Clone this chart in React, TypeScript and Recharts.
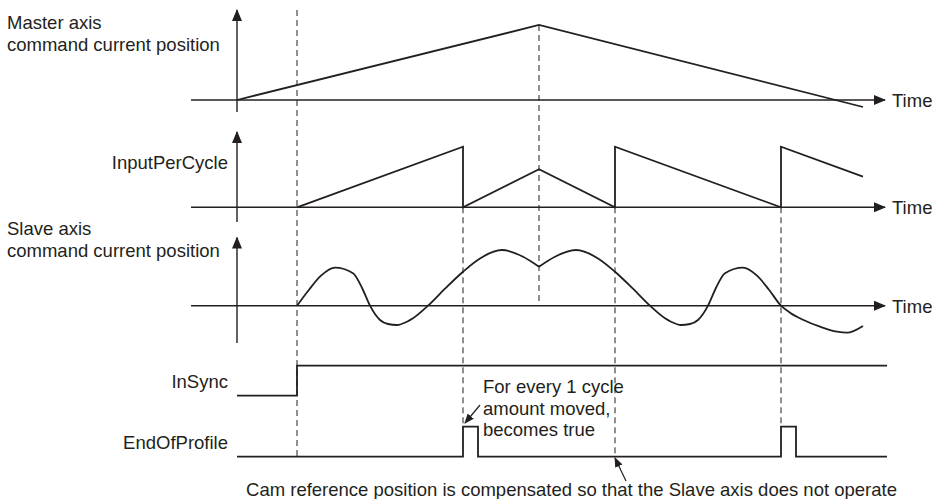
import { ComposedChart, Line, XAxis, YAxis } from "recharts";

// time runs in arbitrary units; 0 = start of master motion
const masterTime = [0, 302, 626];
const masterPos = [0, 75, -7];

const inputTime = [60, 226, 226, 302, 378, 378, 544, 544, 626];
const inputVal = [0, 60.6, 0, 38, 0, 60.6, 0, 60.6, 30.6];

// slave position, split at the cusp (t = 302)
const slaveTimeA = [60, 72, 84, 98, 116, 126, 133, 143, 151, 160, 170, 176, 191, 208, 226, 243, 265, 286, 302];
const slaveValA = [0, 16, 30, 38, 32.5, 15.7, 0, -14.3, -18.3, -19.3, -16, -12.6, 0, 17, 34, 47.3, 55.7, 49, 39];
const slaveTimeB = [302, 318, 339, 361, 378, 396, 413, 428, 434, 444, 453, 461, 471, 478, 488, 506, 520, 532, 544, 553, 566, 583, 600, 610, 626];
const slaveValB = [39, 49, 55.7, 47.3, 34, 17, 0, -12.6, -16, -19.3, -18.3, -14.3, 0, 15.7, 32.5, 38, 30, 16, 0, -7, -14, -21, -26, -27, -20.3];

const inSyncTime = [0, 60, 60, 650];
const inSyncVal = [0, 0, 1, 1];

const eopTime = [0, 226, 226, 241, 241, 544, 544, 559, 559, 650];
const eopVal = [0, 0, 1, 1, 0, 0, 1, 1, 0, 0];

// moments marked with dashed guides
const eventTime = [60, 226, 302, 378, 544];

const W = 932;
const H = 499;
const INK = "#231f20";
const FONT = "'Liberation Sans', Arial, Helvetica, sans-serif";

// baselines of the tracks, px from top (y axis is reversed)
const MASTER_Y = 100;
const INPUT_Y = 207.3;
const SLAVE_Y = 305.7;
const INSYNC_Y = 395.7;
const EOP_Y = 456.7;
const BIT_H = 30;

const rows = (ts: number[], vs: number[], base: number, k = 1) =>
  ts.map((t, i) => ({ t, y: base - vs[i] * k }));
const seg = (t1: number, y1: number, t2: number, y2: number) => [
  { t: t1, y: y1 },
  { t: t2, y: y2 },
];

const guideSpans: [number, number][] = [
  [10, EOP_Y],
  [INPUT_Y, EOP_Y - BIT_H],
  [25, SLAVE_Y],
  [INPUT_Y, EOP_Y],
  [INPUT_Y, EOP_Y - BIT_H],
];

const axes = [
  seg(-46, MASTER_Y, 648, MASTER_Y),
  seg(0, 112, 0, 10),
  seg(-46, INPUT_Y, 648, INPUT_Y),
  seg(0, 222, 0, 132),
  seg(-46, SLAVE_Y, 648, SLAVE_Y),
  seg(0, 343, 0, 237.5),
];

const pointers = [seg(243, 405, 228, 423), seg(389, 481, 378, 458)];

const signals = [
  rows(masterTime, masterPos, MASTER_Y),
  rows(inputTime, inputVal, INPUT_Y),
  rows(inSyncTime, inSyncVal, INSYNC_Y, BIT_H),
  rows(eopTime, eopVal, EOP_Y, BIT_H),
];

const textStyle = { fontFamily: FONT, fontSize: 18.5, fill: INK };

export default function App() {
  return (
    <div style={{ width: W, height: H, background: "#fff" }}>
      <style>{"body{margin:0}"}</style>
      <ComposedChart width={W} height={H} margin={{ top: 0, right: 0, bottom: 0, left: 0 }}>
        <defs>
          <marker
            id="axisHead"
            viewBox="0 0 12 10"
            refX="11"
            refY="5"
            markerWidth="12"
            markerHeight="10"
            markerUnits="userSpaceOnUse"
            orient="auto"
          >
            <path d="M0,0 L12,5 L0,10 z" fill={INK} />
          </marker>
          <marker
            id="noteHead"
            viewBox="0 0 10 8"
            refX="9"
            refY="4"
            markerWidth="10"
            markerHeight="8"
            markerUnits="userSpaceOnUse"
            orient="auto"
          >
            <path d="M0,0 L10,4 L0,8 z" fill={INK} />
          </marker>
        </defs>
        <XAxis dataKey="t" type="number" domain={[-237, 695]} allowDataOverflow hide />
        <YAxis dataKey="y" type="number" domain={[0, H]} reversed allowDataOverflow hide />

        {eventTime.map((t, i) => (
          <Line
            key={`g${i}`}
            data={seg(t, guideSpans[i][0], t, guideSpans[i][1])}
            dataKey="y"
            type="linear"
            stroke={INK}
            strokeWidth={1}
            strokeDasharray="6 4"
            dot={false}
            activeDot={false}
            isAnimationActive={false}
          />
        ))}

        {axes.map((d, i) => (
          <Line
            key={`a${i}`}
            data={d}
            dataKey="y"
            type="linear"
            stroke={INK}
            strokeWidth={1.4}
            markerEnd="url(#axisHead)"
            dot={false}
            activeDot={false}
            isAnimationActive={false}
          />
        ))}

        {signals.map((d, i) => (
          <Line
            key={`s${i}`}
            data={d}
            dataKey="y"
            type="linear"
            stroke={INK}
            strokeWidth={1.8}
            dot={false}
            activeDot={false}
            isAnimationActive={false}
          />
        ))}
        <Line
          data={rows(slaveTimeA, slaveValA, SLAVE_Y)}
          dataKey="y"
          type="monotone"
          stroke={INK}
          strokeWidth={1.8}
          dot={false}
          activeDot={false}
          isAnimationActive={false}
        />
        <Line
          data={rows(slaveTimeB, slaveValB, SLAVE_Y)}
          dataKey="y"
          type="monotone"
          stroke={INK}
          strokeWidth={1.8}
          dot={false}
          activeDot={false}
          isAnimationActive={false}
        />

        {pointers.map((d, i) => (
          <Line
            key={`p${i}`}
            data={d}
            dataKey="y"
            type="linear"
            stroke={INK}
            strokeWidth={1.2}
            markerEnd="url(#noteHead)"
            dot={false}
            activeDot={false}
            isAnimationActive={false}
          />
        ))}

        <text {...textStyle} x={7} y={29}>Master axis</text>
        <text {...textStyle} x={7} y={51}>command current position</text>
        <text {...textStyle} x={228} y={169} textAnchor="end">InputPerCycle</text>
        <text {...textStyle} x={7} y={235}>Slave axis</text>
        <text {...textStyle} x={7} y={257}>command current position</text>
        <text {...textStyle} x={228} y={388} textAnchor="end">InSync</text>
        <text {...textStyle} x={228} y={449} textAnchor="end">EndOfProfile</text>
        <text {...textStyle} x={892} y={MASTER_Y + 7}>Time</text>
        <text {...textStyle} x={892} y={INPUT_Y + 7}>Time</text>
        <text {...textStyle} x={892} y={SLAVE_Y + 7}>Time</text>
        <text {...textStyle} x={483} y={393}>For every 1 cycle</text>
        <text {...textStyle} x={483} y={414.5}>amount moved,</text>
        <text {...textStyle} x={483} y={436}>becomes true</text>
        <text {...textStyle} x={571.5} y={496} textAnchor="middle">
          Cam reference position is compensated so that the Slave axis does not operate
        </text>
      </ComposedChart>
    </div>
  );
}
